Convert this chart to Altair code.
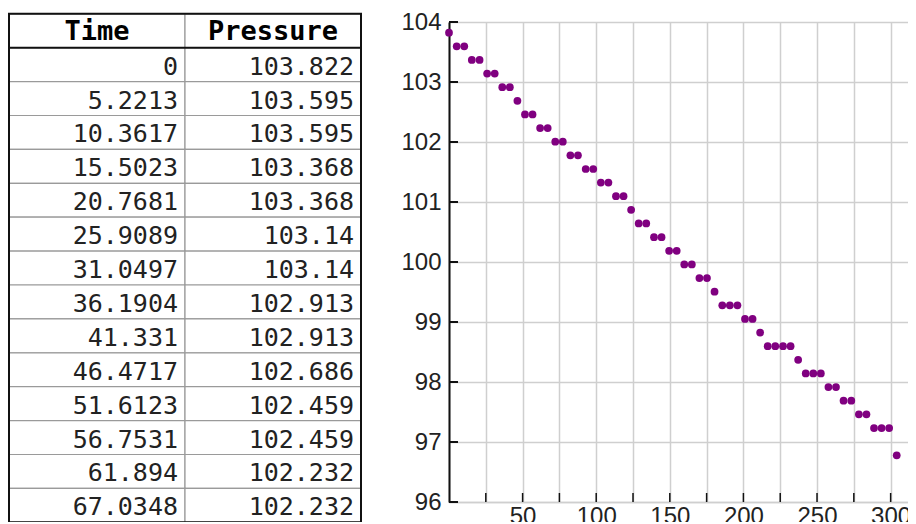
import altair as alt
import pandas as pd

# ---------------- data ----------------
times = [0, 5.2213, 10.3617, 15.5023, 20.7681, 25.9089, 31.0497, 36.1904, 41.331, 46.4717,
         51.6123, 56.7531, 61.894, 67.0348, 72.1755, 77.3163, 82.4570, 87.5977, 92.8635, 98.0043,
         103.145, 108.286, 113.427, 118.567, 123.708, 128.849, 133.990, 139.255, 144.396, 149.537,
         154.678, 159.818, 164.959, 170.100, 175.241, 180.381, 185.647, 190.788, 195.929, 201.069,
         206.210, 211.351, 216.491, 221.632, 226.898, 232.039, 237.179, 242.320, 247.461, 252.601,
         257.742, 262.883, 268.023, 273.289, 278.430, 283.571, 288.711, 293.852, 298.993, 304.133]
pressures = [103.822, 103.595, 103.595, 103.368, 103.368, 103.14, 103.14, 102.913, 102.913, 102.686,
             102.459, 102.459, 102.232, 102.232, 102.005, 102.005, 101.778, 101.778, 101.550, 101.550,
             101.323, 101.323, 101.096, 101.096, 100.869, 100.642, 100.642, 100.414, 100.414, 100.187,
             100.187, 99.960, 99.960, 99.733, 99.733, 99.505, 99.278, 99.278, 99.278, 99.051,
             99.051, 98.824, 98.597, 98.597, 98.597, 98.597, 98.369, 98.142, 98.142, 98.142,
             97.915, 97.915, 97.688, 97.688, 97.461, 97.461, 97.233, 97.233, 97.233, 96.779]

table_headers = ["Time", "Pressure"]
table_time_text = ["0", "5.2213", "10.3617", "15.5023", "20.7681", "25.9089", "31.0497",
                   "36.1904", "41.331", "46.4717", "51.6123", "56.7531", "61.894", "67.0348"]
table_pressure_text = ["103.822", "103.595", "103.595", "103.368", "103.368", "103.14", "103.14",
                       "102.913", "102.913", "102.686", "102.459", "102.459", "102.232", "102.232"]

y_ticks = [96, 97, 98, 99, 100, 101, 102, 103, 104]
x_grid = [0, 25, 50, 75, 100, 125, 150, 175, 200, 225, 250, 275, 300]
x_tick_marks = [25, 50, 75, 100, 125, 150, 175, 200, 225, 250, 275, 300]

# ---------------- table ----------------
cells = []
for c, h in enumerate(table_headers):
    cells.append(dict(c=c, c1=c + 1, cm=c + 0.5, r=0, r1=1, rm=0.5, txt=h, hdr=1))
for i, (tt, pp) in enumerate(zip(table_time_text, table_pressure_text)):
    r = i + 1
    cells.append(dict(c=0, c1=1, cm=0.5, r=r, r1=r + 1, rm=r + 0.5, txt=tt, hdr=0))
    cells.append(dict(c=1, c1=2, cm=1.5, r=r, r1=r + 1, rm=r + 0.5, txt=pp, hdr=0))
cells_df = pd.DataFrame(cells)
nrows = len(table_time_text) + 1

TW, TH = 352, 480
tx = alt.Scale(domain=[0, 2], range=[0, TW], nice=False, zero=False)
ty = alt.Scale(domain=[0, nrows], range=[-8.2, 500.3], nice=False, zero=False)

base_t = alt.Chart(cells_df)
cell_rects = base_t.mark_rect(fill="white", stroke="#9a9a9a", strokeWidth=1.2).encode(
    x=alt.X("c:Q", scale=tx, axis=None), x2="c1:Q",
    y=alt.Y("r:Q", scale=ty, axis=None), y2="r1:Q")
frame_df = pd.DataFrame([dict(c=0, c1=2, r=0, r1=nrows)])
frame = alt.Chart(frame_df).mark_rect(fill=None, stroke="#111", strokeWidth=2).encode(
    x=alt.X("c:Q", scale=tx, axis=None), x2="c1:Q",
    y=alt.Y("r:Q", scale=ty, axis=None), y2="r1:Q")
hdr_line_df = pd.DataFrame([dict(c=0, c1=2, r=1)])
hdr_line = alt.Chart(hdr_line_df).mark_rule(color="#111", strokeWidth=2).encode(
    x=alt.X("c:Q", scale=tx, axis=None), x2="c1:Q",
    y=alt.Y("r:Q", scale=ty, axis=None))
hdr_text = base_t.transform_filter("datum.hdr == 1").mark_text(
    font="DejaVu Sans Mono", fontWeight="bold", fontSize=27, align="center",
    baseline="middle", color="#000", dy=1).encode(
    x=alt.X("cm:Q", scale=tx, axis=None), y=alt.Y("rm:Q", scale=ty, axis=None), text="txt:N")
body_text = base_t.transform_filter("datum.hdr == 0").mark_text(
    font="DejaVu Sans Mono", fontSize=25, align="right", baseline="middle",
    color="#222", dx=-7, dy=2).encode(
    x=alt.X("c1:Q", scale=tx, axis=None), y=alt.Y("rm:Q", scale=ty, axis=None), text="txt:N")

table = alt.layer(cell_rects, hdr_line, frame, hdr_text, body_text).properties(width=TW, height=TH)

# ---------------- scatter ----------------
pts_df = pd.DataFrame({"t": times, "p": pressures})
SW, SH = 459, 480
xs = alt.Scale(domain=[0, 311.8], nice=False, zero=False)
ys = alt.Scale(domain=[96, 104], nice=False, zero=False)

label_font = "Liberation Sans"
x_axis = alt.Axis(
    values=x_grid, grid=True, gridColor="#cfcfcf", gridWidth=1.5,
    domain=True, domainColor="#cfcfcf", domainWidth=1.5,
    ticks=False, tickSize=0, labelPadding=2, labelFont=label_font, labelFontSize=24,
    labelColor="#222", labelFlush=False, labelOverlap=False, title=None,
    labelExpr="(datum.value % 50 == 0 && datum.value > 0) ? datum.label : ''")
y_axis = alt.Axis(
    values=y_ticks, grid=True, gridColor="#cfcfcf", gridWidth=1.5,
    domain=True, domainColor="#111", domainWidth=2,
    ticks=False, tickSize=0, labelPadding=8, labelFont=label_font, labelFontSize=24,
    labelColor="#222", labelFlush=False, labelOverlap=False, format="d", title=None)

points = alt.Chart(pts_df).mark_circle(size=60, color="#800080", opacity=1).encode(
    x=alt.X("t:Q", scale=xs, axis=x_axis),
    y=alt.Y("p:Q", scale=ys, axis=y_axis))

ytick_df = pd.DataFrame({"v": y_ticks})
yticks = alt.Chart(ytick_df).mark_rule(color="#111", strokeWidth=2).encode(
    y=alt.Y("v:Q", scale=ys, axis=y_axis), x=alt.value(0), x2=alt.value(9))
xtick_df = pd.DataFrame({"v": x_tick_marks})
xticks = alt.Chart(xtick_df).mark_rule(color="#111", strokeWidth=1.5).encode(
    x=alt.X("v:Q", scale=xs, axis=x_axis), y=alt.value(SH), y2=alt.value(SH - 9))

scatter = alt.layer(points, yticks, xticks).properties(width=SW, height=SH)

chart = alt.hconcat(table, scatter, spacing=38).properties(
    padding={"left": 0, "top": 2, "right": -3, "bottom": -6},
    background="white"
).configure_view(stroke=None)

chart.save("out.html", embed_options={"renderer": "svg", "actions": False})
